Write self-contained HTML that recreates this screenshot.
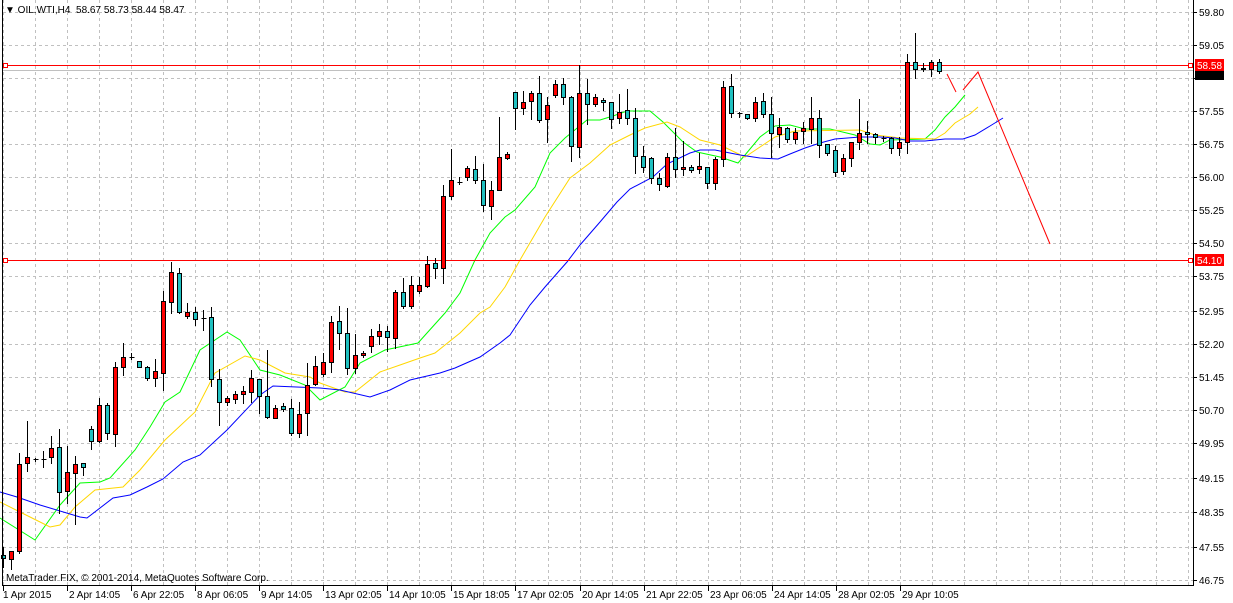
<!DOCTYPE html>
<html><head><meta charset="utf-8"><style>
html,body{margin:0;padding:0;background:#fff;}
svg{display:block;font-family:"Liberation Sans",sans-serif;}
</style></head><body>
<svg id="s" width="1233" height="603" xmlns="http://www.w3.org/2000/svg">
<rect width="1233" height="603" fill="#fff"/>
<g id="grid" stroke="#c0c0c0" stroke-dasharray="3,3" stroke-width="1"></g>
<g id="mas" fill="none" stroke-width="1"></g>
<line x1="2" y1="65.5" x2="1193" y2="65.5" stroke="#ff0000"/>
<line x1="2" y1="70.5" x2="1193" y2="70.5" stroke="#c0c0c0"/>
<line x1="2" y1="260.5" x2="1193" y2="260.5" stroke="#ff0000"/>
<rect x="3.5" y="63.5" width="4" height="4" fill="#fff" stroke="#ff0000"/>
<rect x="1188.5" y="63.5" width="4" height="4" fill="#fff" stroke="#ff0000"/>
<rect x="3.5" y="258.5" width="4" height="4" fill="#fff" stroke="#ff0000"/>
<rect x="1188.5" y="258.5" width="4" height="4" fill="#fff" stroke="#ff0000"/>
<g id="candles"></g>
<polyline points="947,74 956,92" stroke="#ff0000" fill="none"/>
<polyline points="963,90 978,72 1050,244" stroke="#ff0000" fill="none"/>
<line x1="2.5" y1="0" x2="2.5" y2="585" stroke="#000"/>
<line x1="2" y1="585.5" x2="1193" y2="585.5" stroke="#000"/>
<line x1="1193.5" y1="0" x2="1193.5" y2="586" stroke="#000"/>
<g id="ylab" font-size="10" fill="#000"></g>
<rect x="1195" y="71" width="29" height="9" fill="#000"/>
<rect x="1195" y="59" width="29" height="12" fill="#ff0000"/>
<text x="1197" y="69" font-size="10" fill="#fff">58.58</text>
<rect x="1195" y="254" width="29" height="12" fill="#ff0000"/>
<text x="1197" y="264" font-size="10" fill="#fff">54.10</text>
<g id="xlab" font-size="10" fill="#000"></g>
<text x="5" y="13" font-size="10" fill="#000">▼ OIL.WTI,H4&#160;&#160;58.67&#160;58.73&#160;58.44&#160;58.47</text>
<text x="6" y="581" font-size="10" fill="#000">MetaTrader FIX, © 2001-2014, MetaQuotes Software Corp.</text>
</svg>
<script>
var NS="http://www.w3.org/2000/svg";
function el(p,t,a,txt){var e=document.createElementNS(NS,t);for(var k in a)e.setAttribute(k,a[k]);if(txt!==undefined)e.textContent=txt;document.getElementById(p).appendChild(e);return e;}
var ys=[12,45,78,111,144,177,210,243,276,311,344,377,410,443,478,512,547,580];
var yl=["59.80","59.05","58.30","57.55","56.75","56.00","55.25","54.50","53.75","52.95","52.20","51.45","50.70","49.95","49.15","48.35","47.55","46.75"];
ys.forEach(function(y,i){el("grid","line",{x1:3,y1:y+.5,x2:1193,y2:y+.5});
 el("ylab","line",{x1:1193,y1:y+.5,x2:1197,y2:y+.5,stroke:"#000"});
 if(yl[i]!="58.30")el("ylab","text",{x:1199,y:y+4},yl[i]);});
for(var i=0;i<38;i++){var x=3+32.03*i;el("grid","line",{x1:Math.round(x)+.5,y1:0,x2:Math.round(x)+.5,y2:585});}
var xl=["1 Apr 2015","2 Apr 14:05","6 Apr 22:05","8 Apr 06:05","9 Apr 14:05","13 Apr 02:05","14 Apr 10:05","15 Apr 18:05","17 Apr 02:05","20 Apr 14:05","21 Apr 22:05","23 Apr 06:05","24 Apr 14:05","28 Apr 02:05","29 Apr 10:05"];
xl.forEach(function(t,i){var x=3+64.06*i;el("xlab","line",{x1:Math.round(x)+.5,y1:585,x2:Math.round(x)+.5,y2:591,stroke:"#000"});el("xlab","text",{x:Math.round(x)+(i?2:0),y:598},t);});
var C=[[555,558,547,567,'c'],[551,559,551,569,'r'],[464,551,453,553,'r'],[457,463,421,471,'r'],[459,459,458,461,'d'],[459,459,451,467,'d'],[448,457,436,463,'r'],[447,492,429,513,'c'],[472,491,446,503,'r'],[464,473,456,524,'r'],
[463,467,463,475,'c'],[429,441,426,449,'c'],[405,441,398,442,'r'],[405,433,403,439,'c'],[367,434,362,446,'r'],[357,367,343,375,'r'],[357,357,353,359,'d'],[361,367,361,367,'c'],[367,378,366,380,'c'],[371,378,359,386,'r'],
[301,373,291,390,'r'],[272,302,262,313,'r'],[273,312,268,313,'c'],[312,316,303,318,'r'],[312,319,307,325,'c'],[318,318,310,330,'d'],[317,379,307,386,'c'],[379,402,369,425,'c'],[398,402,396,405,'r'],[394,399,391,403,'r'],
[391,394,386,403,'r'],[378,392,370,402,'r'],[379,396,379,413,'c'],[396,417,350,418,'c'],[408,418,405,418,'r'],[406,409,403,411,'c'],[408,433,399,435,'c'],[414,433,402,437,'r'],[385,413,363,435,'r'],[366,384,356,385,'r'],
[362,374,353,376,'r'],[322,362,316,372,'r'],[321,333,306,349,'c'],[333,368,308,374,'c'],[355,368,334,373,'r'],[353,355,351,357,'r'],[336,346,329,352,'r'],[331,336,324,344,'r'],[331,337,326,351,'c'],[292,338,290,348,'r'],
[292,306,278,308,'c'],[285,306,276,308,'r'],[285,291,277,293,'r'],[264,286,256,287,'r'],[263,268,258,278,'c'],[196,268,185,283,'r'],[180,196,149,199,'r'],[182,182,177,184,'d'],[168,177,166,180,'r'],[169,180,156,183,'c'],
[180,205,164,211,'c'],[190,206,181,219,'r'],[157,190,117,190,'r'],[154,158,152,159,'r'],[92,108,92,129,'c'],[102,108,91,114,'r'],[93,101,91,119,'r'],[93,120,76,122,'c'],[105,119,97,142,'r'],[84,95,80,97,'r'],
[84,97,78,104,'c'],[97,146,96,161,'c'],[93,147,65,157,'r'],[93,104,79,124,'c'],[97,104,94,106,'r'],[100,102,98,110,'c'],[102,119,102,128,'c'],[112,118,94,123,'r'],[110,118,89,124,'c'],[118,156,108,173,'c'],
[156,167,146,172,'c'],[158,178,157,183,'c'],[178,184,173,190,'c'],[157,186,153,187,'r'],[157,169,128,177,'c'],[167,169,141,175,'r'],[167,170,165,172,'c'],[166,169,153,173,'r'],[167,183,167,188,'c'],[159,183,157,189,'r'],
[87,159,81,166,'r'],[86,113,74,117,'c'],[113,113,112,117,'d'],[114,118,114,119,'c'],[102,118,97,121,'r'],[101,114,93,117,'c'],[114,133,97,157,'c'],[127,134,118,147,'r'],[128,139,127,142,'c'],[132,139,128,143,'r'],
[128,131,122,143,'r'],[118,129,97,143,'r'],[118,145,110,157,'c'],[144,153,144,155,'c'],[150,172,146,176,'c'],[158,171,154,174,'r'],[142,158,142,166,'r'],[133,142,99,149,'r'],[132,134,121,143,'c'],[134,137,133,143,'c'],
[138,138,136,141,'d'],[138,148,137,153,'c'],[142,148,137,155,'r'],[62,142,54,153,'r'],[62,69,33,78,'c'],[68,69,63,71,'r'],[62,69,60,76,'r'],[62,71,59,73,'c']];
C.forEach(function(c,i){var x=3+8*i+.5;
 el("candles","line",{x1:x,y1:c[2],x2:x,y2:c[3]+1,stroke:"#000"});
 if(c[4]=='d'){el("candles","line",{x1:x-2,y1:c[0]+.5,x2:x+3,y2:c[0]+.5,stroke:"#000"});}
 else el("candles","rect",{x:x-2,y:c[0]+.5,width:4,height:Math.max(1,c[1]-c[0]),fill:c[4]=='r'?'#ff0000':'#20c0c0',stroke:"#000"});});
var G="0,518 35,540 60,505 80,483 100,482 110,478 135,450 150,427 165,402 180,392 200,350 227,332 240,340 260,370 280,375 305,385 320,400 345,387 360,363 385,350 418,343 445,313 460,293 475,260 490,233 505,217 515,210 535,187 550,153 565,138 587,120 600,120 613,116 627,111 650,111 663,122 683,142 697,152 720,157 738,163 745,155 760,137 775,126 790,125 805,129 830,129 855,135 870,144 880,145 890,140 925,139 935,130 945,117 955,107 965,95";
var Y="0,502 30,517 50,527 60,525 75,507 95,490 123,487 140,470 165,440 195,412 215,373 245,356 260,360 285,373 310,377 320,383 345,392 355,392 380,372 400,365 420,358 435,353 460,333 480,313 490,307 505,287 520,260 545,217 570,178 590,163 610,145 630,135 645,128 667,122 680,127 700,140 720,145 745,157 760,147 775,137 795,131 860,130 875,135 900,138 935,139 945,133 955,123 970,114 978,107";
var B="0,492 17,497 40,505 80,517 87,518 113,498 130,495 147,487 163,479 183,462 200,455 227,430 260,395 273,386 320,388 340,390 370,397 390,390 410,380 440,373 455,368 480,357 500,343 510,335 520,320 530,305 545,287 567,262 580,245 600,222 617,202 630,189 653,177 667,164 690,153 700,150 715,150 740,155 760,158 778,159 790,154 805,148 820,143 835,139 860,137 880,137 895,138 910,141 925,141 945,139 963,139 975,135 990,126 1003,118";
el("mas","polyline",{points:G,stroke:"#00ff00"});
el("mas","polyline",{points:Y,stroke:"#ffd700"});
el("mas","polyline",{points:B,stroke:"#0000ff"});
</script>
</body></html>
